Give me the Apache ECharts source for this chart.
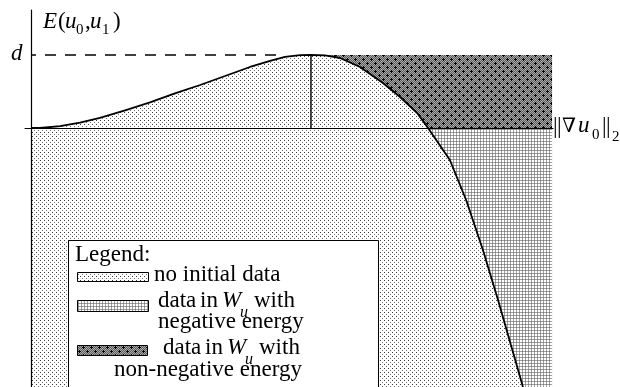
<!DOCTYPE html>
<html>
<head>
<meta charset="utf-8">
<script src="https://cdn.jsdelivr.net/npm/echarts@6/dist/echarts.min.js"></script>
<style>
  html, body { margin: 0; background: #fff; }
  #chart { width: 620px; height: 387px; }
</style>
</head>
<body>
<div id="chart"></div>
<script>
// energy E(u0,u1) against ||grad u0||_2, scaled so that the peak sits at (1, d = 1)
const gradNorm = [0, 0.032, 0.104, 0.175, 0.246, 0.336, 0.425, 0.514, 0.604, 0.693, 0.782, 0.854,
  0.907, 0.961, 1.0, 1.05, 1.104, 1.175, 1.257, 1.318, 1.379, 1.418, 1.496, 1.554, 1.614, 1.668, 1.714, 1.757];
const energy = [0, 0, 0.025, 0.075, 0.14, 0.24, 0.35, 0.475, 0.589, 0.712, 0.836, 0.918,
  0.973, 0.997, 1.0, 0.996, 0.959, 0.836, 0.616, 0.425, 0.205, 0, -0.438, -0.986, -1.671, -2.356, -2.973, -3.548];
const peakLine = [[1, 0], [1, 1]];
const dLine = [[0, 1], [0.89, 1]];
const negBand = [[0, 0], [1.861, 0]];
const nonNegBand = [[1, 1], [1.861, 1]];

const X_MIN = -6 / 280, X_MAX = 522 / 280;
const Y_MIN = -259 / 73, Y_MAX = 118 / 73;

const SERIF = "'Liberation Serif', 'Times New Roman', serif";

// small canvas tiles for the hatch patterns
function tile(w, h, draw) {
  const c = document.createElement('canvas');
  c.width = w;
  c.height = h;
  const g = c.getContext('2d');
  g.fillStyle = '#fff';
  g.fillRect(0, 0, w, h);
  draw(g);
  return c;
}
const dotTile = tile(4, 4, g => {
  g.fillStyle = '#3c3c3c';
  g.fillRect(0, 0, 1, 1);
  g.fillStyle = '#6e6e6e';
  g.fillRect(2, 2, 1, 1);
});
const gridTile = tile(3, 3, g => {
  g.fillStyle = '#a0a0a0';
  g.fillRect(0, 0, 3, 1);
  g.fillRect(0, 0, 1, 3);
  g.fillStyle = '#7a7a7a';
  g.fillRect(0, 0, 1, 1);
});
const darkTile = tile(8, 8, g => {
  for (let i = 0; i < 8; i++) {
    for (let j = 0; j < 8; j++) {
      g.fillStyle = (i + j) % 2 ? '#5c5c5c' : '#a8a8a8';
      g.fillRect(i, j, 1, 1);
    }
  }
  g.fillStyle = '#000';
  [[3, 3], [3, 2], [3, 4], [2, 3], [4, 3], [7, 7], [7, 6], [7, 0], [6, 7], [0, 7]].forEach(p => g.fillRect(p[0], p[1], 1, 1));
});
const pat = img => ({ image: img, repeat: 'repeat' });

// text pieces placed by baseline
function t(x, base, str, size, italic, family) {
  return {
    type: 'text', x: x, y: base - 0.34 * size, z: 100,
    style: {
      text: str, fill: '#000', verticalAlign: 'middle',
      font: (italic ? 'italic ' : '') + size + 'px ' + (family || SERIF)
    }
  };
}
function swatch(x, y, w, h, img) {
  return {
    type: 'rect', z: 100,
    shape: { x: x, y: y, width: w, height: h },
    style: { fill: pat(img), stroke: '#000', lineWidth: 1 }
  };
}

const chart = echarts.init(document.getElementById('chart'));
chart.setOption({
  animation: false,
  grid: { left: 25, right: 67, top: 10, bottom: 0 },
  xAxis: {
    type: 'value', min: X_MIN, max: X_MAX, z: 10,
    axisLine: { onZero: true, lineStyle: { color: '#000', width: 1.2 } },
    axisTick: { show: false }, axisLabel: { show: false }, splitLine: { show: false }
  },
  yAxis: {
    type: 'value', min: Y_MIN, max: Y_MAX, z: 10,
    axisLine: { onZero: true, lineStyle: { color: '#000', width: 1.2 } },
    axisTick: { show: false }, axisLabel: { show: false }, splitLine: { show: false }
  },
  series: [
    {
      type: 'line', data: negBand, symbol: 'none', silent: true, z: 1,
      lineStyle: { width: 0 },
      areaStyle: { color: pat(gridTile), opacity: 1, origin: 'start' }
    },
    {
      type: 'line', data: nonNegBand, symbol: 'none', silent: true, z: 1,
      lineStyle: { width: 0 },
      areaStyle: { color: pat(darkTile), opacity: 1 }
    },
    {
      type: 'line', data: gradNorm.map((x, i) => [x, energy[i]]), symbol: 'none', silent: true, z: 2,
      lineStyle: { color: '#000', width: 1.8 },
      areaStyle: { color: pat(dotTile), opacity: 1, origin: 'start' }
    },
    {
      type: 'line', data: peakLine, symbol: 'none', silent: true, z: 3,
      lineStyle: { color: '#000', width: 1.4 }
    },
    {
      type: 'line', data: dLine, symbol: 'none', silent: true, z: 3,
      lineStyle: { color: '#000', width: 1.4, type: [11, 9], dashOffset: 6 }
    }
  ],
  graphic: [
    // axis titles
    t(43, 30, 'E', 23, true), t(58, 30, '(', 23), t(65, 30, 'u', 23, true), t(76, 35, '0', 15),
    t(85, 30, ',', 23), t(90, 30, 'u', 23, true), t(102, 35, '1', 15), t(113, 30, ')', 23),
    t(11, 62, 'd', 23, true),
    t(553, 135, '|', 23), t(557, 135, '|', 23), t(562, 134, '\u2207', 20, false, "'DejaVu Serif', serif"),
    t(578, 134, 'u', 23, true),
    t(592, 140, '0', 15), t(602, 135, '|', 23), t(606, 135, '|', 23), t(612, 142, '2', 15),
    // legend
    {
      type: 'rect', z: 90,
      shape: { x: 68.5, y: 240.5, width: 310, height: 150 },
      style: { fill: '#fff', stroke: '#000', lineWidth: 1 }
    },
    t(75, 263, 'Legend:', 23),
    swatch(77.5, 272.5, 71, 9, dotTile), t(154, 283, 'no initial data', 23),
    swatch(77.5, 300.5, 71, 11, gridTile),
    t(158, 309, 'data', 23), t(200, 309, 'in', 23), t(222, 309, 'W', 23, true), t(240, 318, 'u', 16, true),
    t(254, 309, 'with', 23),
    t(158, 330, 'negative energy', 23),
    swatch(77.5, 345.5, 70, 10, darkTile),
    t(163, 356, 'data', 23), t(205, 356, 'in', 23), t(227, 356, 'W', 23, true), t(245, 365, 'u', 16, true),
    t(259, 356, 'with', 23),
    t(114, 378, 'non-negative energy', 23)
  ]
});
</script>
</body>
</html>
